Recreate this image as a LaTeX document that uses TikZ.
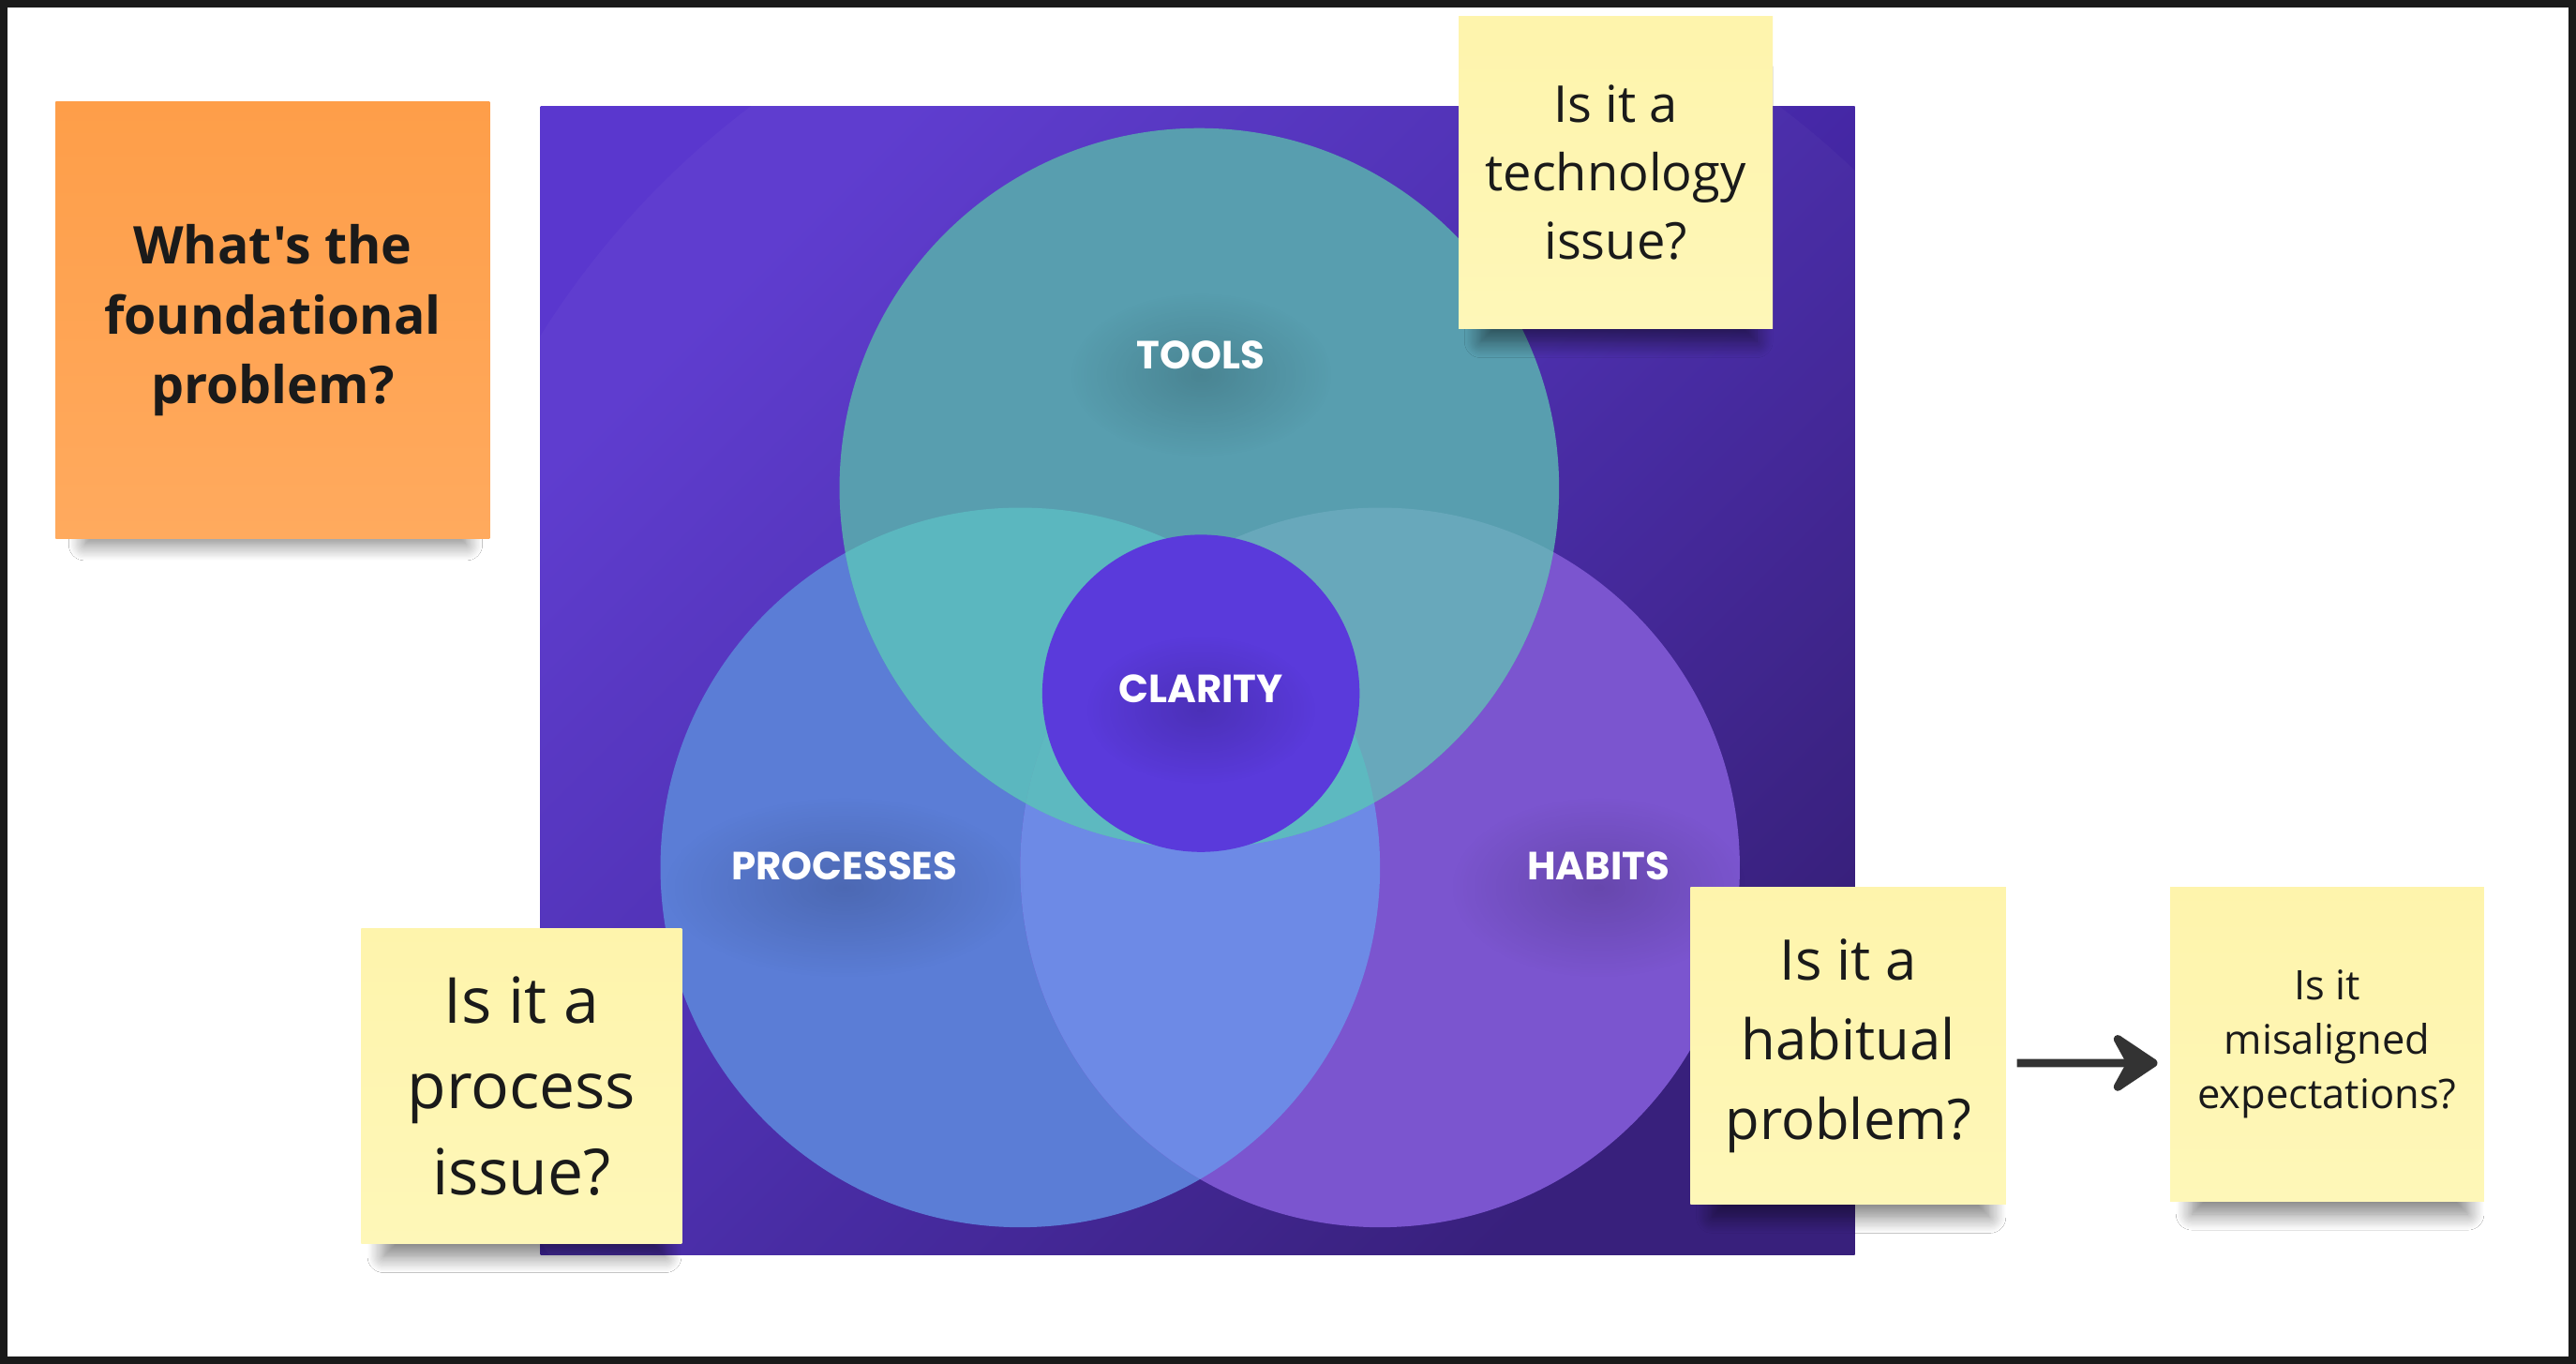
\documentclass[tikz,border=0pt]{standalone}
\usepackage{fontspec}
\setmainfont{Open Sans}[Ligatures=TeXOff]
\newfontfamily\vennfont{Poppins}
\usetikzlibrary{arrows.meta,shadows.blur,fadings}
\definecolor{ink}{HTML}{1A1A1A}
\definecolor{bgtop}{HTML}{5A37CE}
\definecolor{bgmid}{HTML}{4729AA}
\definecolor{bgbottom}{HTML}{321978}
\definecolor{toolscol}{HTML}{589EAF}
\definecolor{procscol}{HTML}{5B7DD6}
\definecolor{habitscol}{HTML}{7B55CF}
\definecolor{tpcol}{HTML}{5BB7BF}
\definecolor{thcol}{HTML}{68A8BB}
\definecolor{phcol}{HTML}{6D8AE6}
\definecolor{tphcol}{HTML}{5DB9C0}
\definecolor{claritycol}{HTML}{5A3ADB}
\definecolor{orangetop}{HTML}{FE9E49}
\definecolor{orangebot}{HTML}{FFAA5E}
\definecolor{yellowtop}{HTML}{FEF4AC}
\definecolor{yellowbot}{HTML}{FEF7B8}
\definecolor{arrowcol}{HTML}{333333}
\tikzfading[name=glowfade, inner color=transparent!0, outer color=transparent!100]
\tikzset{
    note/.style={rectangle, inner sep=0pt, align=center, text=ink,
        blur shadow={shadow xshift=0.02cm, shadow yshift=-0.22cm,
            shadow scale=0.88, shadow opacity=50,
            shadow blur radius=0.11cm, shadow blur steps=14}},
    yellownote/.style={note, top color=yellowtop, bottom color=yellowbot},
    orangenote/.style={note, top color=orangetop, bottom color=orangebot},
    venntext/.style={text=white, font=\vennfont\bfseries\fontsize{6.8}{8}\selectfont},
    glow/.style={fill=black, fill opacity=0.16, path fading=glowfade},
    flow/.style={draw=arrowcol, line width=0.05cm,
        -{Stealth[length=0.33cm, width=0.44cm, inset=0.12cm, round]}},
}
% venn discs
\def\toolsdisc{(730,297) circle[radius=219]}
\def\procsdisc{(621,528) circle[radius=219]}
\def\habitsdisc{(840,528) circle[radius=219]}

\begin{document}
\begin{tikzpicture}[x=0.01cm, y=-0.01cm]
    \useasboundingbox (0,0) rectangle (1568,830);
    \fill[white] (0,0) rectangle (1568,830);

    % background square
    \shade[top color=bgtop, bottom color=bgbottom, middle color=bgmid, shading angle=45]
        (329,65) rectangle (1129,764);
    \begin{scope}
        \clip (329,65) rectangle (1129,764);
        \fill[white, fill opacity=0.03] (770,480) circle[radius=520];
    \end{scope}

    % circles and overlaps
    \fill[procscol] \procsdisc;
    \fill[habitscol] \habitsdisc;
    \fill[toolscol] \toolsdisc;
    \begin{scope}
        \clip \procsdisc;
        \fill[phcol] \habitsdisc;
    \end{scope}
    \begin{scope}
        \clip \toolsdisc;
        \fill[tpcol] \procsdisc;
        \fill[thcol] \habitsdisc;
        \clip \procsdisc;
        \fill[tphcol] \habitsdisc;
    \end{scope}

    % labels
    \fill[glow] (731,228) ellipse[x radius=80, y radius=50];
    \fill[glow] (514,540) ellipse[x radius=110, y radius=55];
    \fill[glow] (973,540) ellipse[x radius=90, y radius=55];
    \node[venntext] (toolslabel) at (731,216) {TOOLS};
    \node[venntext] (procslabel) at (514,527) {PROCESSES};
    \node[venntext] (habitslabel) at (973,527) {HABITS};
    \node[circle, fill=claritycol, minimum size=1.93cm, inner sep=0pt] (clarity) at (731,422) {};
    \fill[glow] (731,432) ellipse[x radius=70, y radius=45];
    \node[venntext] (claritylabel) at (731,419) {CLARITY};

    % sticky notes
    \node[orangenote, minimum width=2.64cm, minimum height=2.66cm,
        font=\bfseries\fontsize{9}{12.1}\selectfont] (whatnote) at (166,195)
        {What's the\\foundational\\problem?};
    \node[yellownote, minimum width=1.91cm, minimum height=1.90cm,
        font=\fontsize{8.8}{11.8}\selectfont] (technote) at (983.5,105)
        {Is it a\\technology\\issue?};
    \node[yellownote, minimum width=1.95cm, minimum height=1.92cm,
        font=\fontsize{11}{14.9}\selectfont] (procnote) at (317.5,661)
        {Is it a\\process\\issue?};
    \node[yellownote, minimum width=1.92cm, minimum height=1.93cm,
        font=\fontsize{9.7}{13.8}\selectfont] (habitnote) at (1125,636.5)
        {Is it a\\habitual\\problem?};
    \node[yellownote, minimum width=1.91cm, minimum height=1.91cm,
        font=\fontsize{7.05}{9.4}\selectfont] (misnote) at (1416.5,635.5)
        {Is it\\misaligned\\expectations?};

    \draw[flow, shorten <=0.06cm, shorten >=0.07cm]
        ([yshift=-0.105cm]habitnote.east) -- ([yshift=-0.115cm]misnote.west);

    % frame
    \draw[ink, line width=0.045cm] (2.25,2.25) rectangle (1565.75,827.75);
\end{tikzpicture}
\end{document}
